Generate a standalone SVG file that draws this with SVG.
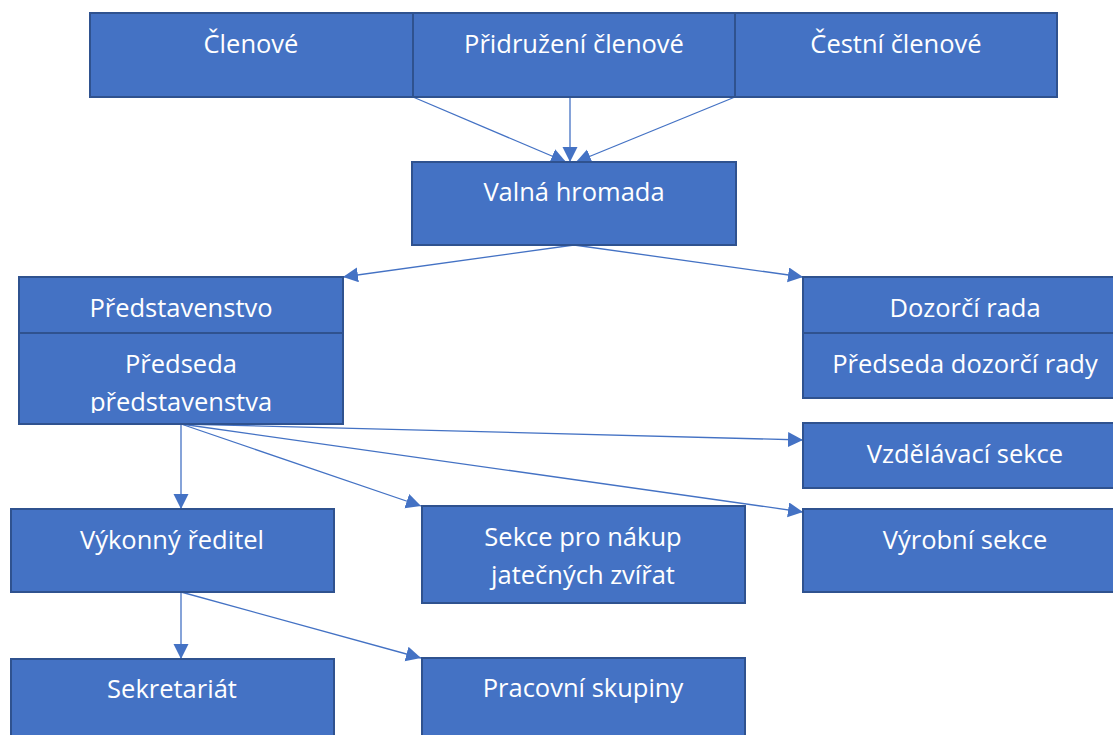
<svg xmlns="http://www.w3.org/2000/svg" width="1113" height="735" viewBox="0 0 1113 735">
<style>
.box{fill:#4472C4;stroke:#2F528F;stroke-width:2}
.t{font-family:"Open Sans","Noto Sans","DejaVu Sans",sans-serif;font-size:25.5px;fill:#FFFFFF;text-anchor:middle}
.c{stroke:#4472C4;stroke-width:1.3;fill:none;marker-end:url(#ah)}
</style>
<defs>
<marker id="ah" markerUnits="userSpaceOnUse" markerWidth="16" markerHeight="16" refX="15" refY="7.5" orient="auto" viewBox="0 0 16 16">
<path d="M0,0 L15,7.5 L0,15 z" fill="#4472C4"/>
</marker>
<clipPath id="clipP"><rect x="19" y="333" width="324" height="80"/></clipPath>
</defs>
<rect width="1113" height="735" fill="#FFFFFF"/>
<g id="connectors">
<line class="c" x1="413" y1="97" x2="566" y2="162"/>
<line class="c" x1="570" y1="97" x2="570" y2="162"/>
<line class="c" x1="735" y1="97" x2="576" y2="162"/>
<line class="c" x1="574" y1="245" x2="343" y2="277"/>
<line class="c" x1="574" y1="245" x2="803" y2="277"/>
<line class="c" x1="181" y1="424" x2="181" y2="509"/>
<line class="c" x1="181" y1="424" x2="421" y2="506"/>
<line class="c" x1="181" y1="424" x2="803" y2="440"/>
<line class="c" x1="181" y1="424" x2="803" y2="512"/>
<line class="c" x1="181" y1="592" x2="181" y2="659"/>
<line class="c" x1="181" y1="592" x2="421" y2="658"/>
</g>
<g id="clenove"><rect class="box" x="90" y="13" width="323" height="84"/><text class="t" x="251" y="53">Členové</text></g>
<g id="pridruzeni"><rect class="box" x="413" y="13" width="322" height="84"/><text class="t" x="574" y="53">Přidružení členové</text></g>
<g id="cestni"><rect class="box" x="735" y="13" width="322" height="84"/><text class="t" x="896" y="53">Čestní členové</text></g>
<g id="valna"><rect class="box" x="412" y="162" width="324" height="83"/><text class="t" x="574" y="201">Valná hromada</text></g>
<g id="predstavenstvo"><rect class="box" x="19" y="277" width="324" height="56"/><text class="t" x="181" y="317">Představenstvo</text></g>
<g id="predseda-predstavenstva"><rect class="box" x="19" y="333" width="324" height="91"/><g clip-path="url(#clipP)"><text class="t" x="181" y="373">Předseda</text><text class="t" x="181" y="411">představenstva</text></g></g>
<g id="dozorci"><rect class="box" x="803" y="277" width="324" height="56"/><text class="t" x="965" y="317">Dozorčí rada</text></g>
<g id="predseda-dozorci"><rect class="box" x="803" y="333" width="324" height="65"/><text class="t" x="965" y="373">Předseda dozorčí rady</text></g>
<g id="vzdelavaci"><rect class="box" x="803" y="423" width="324" height="65"/><text class="t" x="965" y="463">Vzdělávací sekce</text></g>
<g id="vyrobni"><rect class="box" x="803" y="509" width="324" height="83"/><text class="t" x="965" y="549">Výrobní sekce</text></g>
<g id="vykonny"><rect class="box" x="11" y="509" width="323" height="83"/><text class="t" x="172" y="549">Výkonný ředitel</text></g>
<g id="sekce-nakup"><rect class="box" x="422" y="506" width="323" height="97"/><text class="t" x="583" y="546">Sekce pro nákup</text><text class="t" x="583" y="584">jatečných zvířat</text></g>
<g id="sekretariat"><rect class="box" x="11" y="659" width="323" height="95"/><text class="t" x="172" y="698">Sekretariát</text></g>
<g id="pracovni"><rect class="box" x="422" y="658" width="323" height="95"/><text class="t" x="583" y="697">Pracovní skupiny</text></g>
</svg>
